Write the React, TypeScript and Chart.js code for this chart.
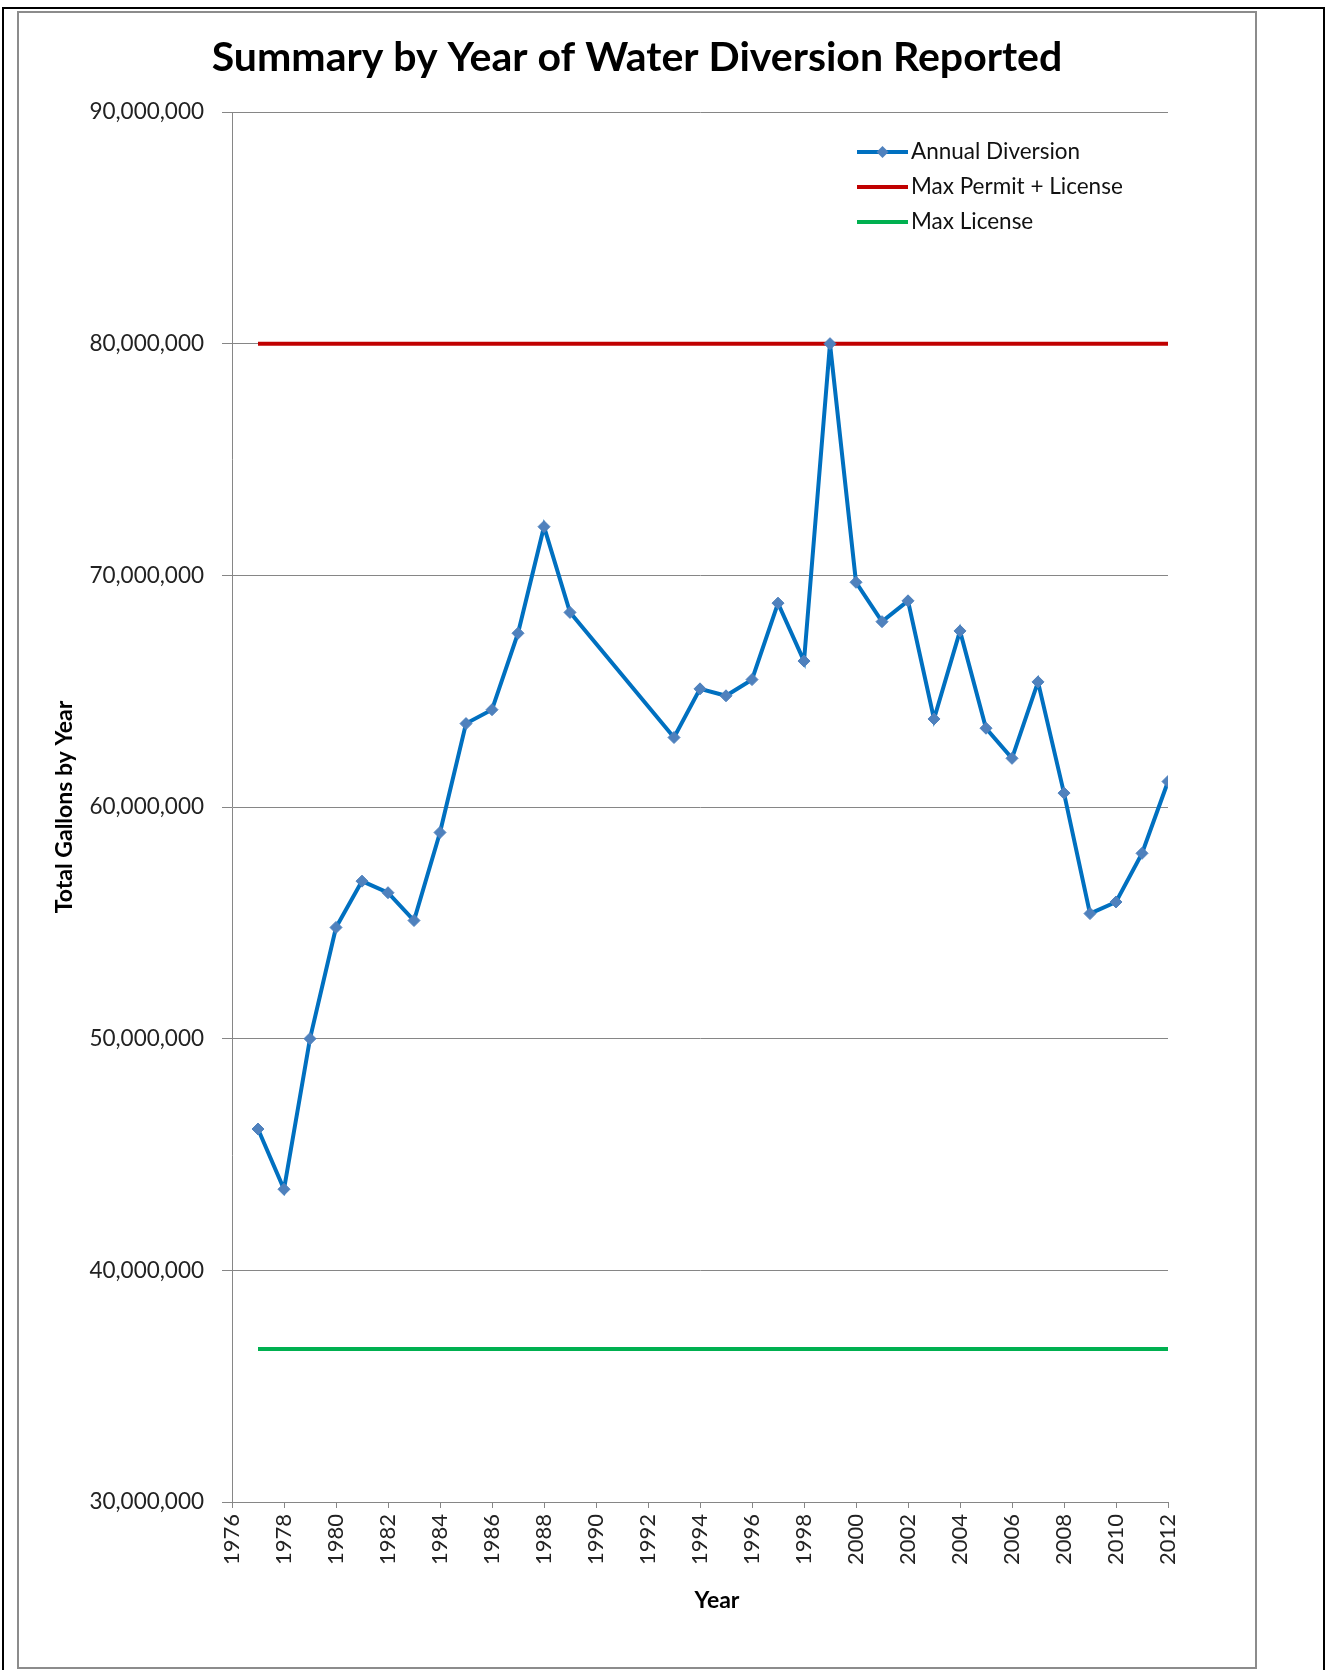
import React, { useEffect, useRef } from 'react';
import { Chart, registerables } from 'chart.js';

Chart.register(...registerables);

// ---- Data ----
const years = [
  1977, 1978, 1979, 1980, 1981, 1982, 1983, 1984, 1985, 1986, 1987, 1988, 1989,
  1993, 1994, 1995, 1996, 1997, 1998, 1999, 2000, 2001, 2002, 2003, 2004, 2005,
  2006, 2007, 2008, 2009, 2010, 2011, 2012,
];
const annualDiversion = [
  46100000, 43500000, 50000000, 54800000, 56800000, 56300000, 55100000, 58900000,
  63600000, 64200000, 67500000, 72100000, 68400000,
  63000000, 65100000, 64800000, 65500000, 68800000, 66300000, 80000000, 69700000,
  68000000, 68900000, 63800000, 67600000, 63400000, 62100000, 65400000, 60600000,
  55400000, 55900000, 58000000, 61100000,
];
const limitYears = [1977, 2012];
const maxPermitLicense = [80000000, 80000000];
const maxLicense = [36600000, 36600000];

const seriesLabels = ['Annual Diversion', 'Max Permit + License', 'Max License'];
const chartTitle = 'Summary by Year of Water Diversion Reported';
const xAxisTitle = 'Year';
const yAxisTitle = 'Total Gallons by Year';

const xMin = 1976;
const xMax = 2012;
const xStep = 2;
const yMin = 30000000;
const yMax = 90000000;
const yStep = 10000000;

const FONT = 'Lato, "Open Sans", "Liberation Sans", sans-serif';

const insideLegend = {
  id: 'insideLegend',
  afterDraw(chart: any) {
    const { ctx, chartArea } = chart;
    const x0 = chartArea.right - 311;
    let y = chartArea.top + 40;
    ctx.save();
    chart.data.datasets.forEach((ds: any) => {
      ctx.strokeStyle = ds.borderColor;
      ctx.lineWidth = ds.borderWidth;
      ctx.lineCap = 'butt';
      ctx.beginPath();
      ctx.moveTo(x0, y);
      ctx.lineTo(x0 + 51, y);
      ctx.stroke();
      if (ds.pointRadius > 0) {
        const cx = x0 + 25.5;
        const r = ds.pointRadius;
        ctx.fillStyle = ds.pointBackgroundColor;
        ctx.beginPath();
        ctx.moveTo(cx, y - r);
        ctx.lineTo(cx + r, y);
        ctx.lineTo(cx, y + r);
        ctx.lineTo(cx - r, y);
        ctx.closePath();
        ctx.fill();
      }
      ctx.fillStyle = '#111';
      ctx.font = `22.5px ${FONT}`;
      ctx.textAlign = 'left';
      ctx.textBaseline = 'middle';
      ctx.fillText(ds.label, x0 + 54, y);
      y += 35;
    });
    ctx.restore();
  },
};

// x-axis title, placed slightly right of the plot centre as in the original
const xTitlePlugin = {
  id: 'xTitlePlugin',
  afterDraw(chart: any) {
    const { ctx, chartArea } = chart;
    ctx.save();
    ctx.fillStyle = '#000';
    ctx.font = `bold 23px ${FONT}`;
    ctx.textAlign = 'center';
    ctx.textBaseline = 'middle';
    ctx.fillText(xAxisTitle, (chartArea.left + chartArea.right) / 2 + 17, chartArea.bottom + 99);
    ctx.restore();
  },
};

export default function App() {
  const canvasRef = useRef<HTMLCanvasElement | null>(null);

  useEffect(() => {
    if (!canvasRef.current) return;
    const chart = new Chart(canvasRef.current, {
      type: 'line',
      data: {
        datasets: [
          {
            label: seriesLabels[0],
            data: years.map((yr, i) => ({ x: yr, y: annualDiversion[i] })),
            borderColor: '#0070C0',
            borderWidth: 4,
            pointStyle: 'rectRot',
            pointRadius: 6,
            pointBackgroundColor: '#4F81BD',
            pointBorderColor: '#4F81BD',
            pointBorderWidth: 1,
            tension: 0,
            yAxisID: 'y',
          },
          {
            label: seriesLabels[1],
            data: limitYears.map((yr, i) => ({ x: yr, y: maxPermitLicense[i] })),
            borderColor: '#C00000',
            borderWidth: 4,
            pointRadius: 0,
            tension: 0,
            yAxisID: 'y',
          },
          {
            label: seriesLabels[2],
            data: limitYears.map((yr, i) => ({ x: yr, y: maxLicense[i] })),
            borderColor: '#00B050',
            borderWidth: 4,
            pointRadius: 0,
            tension: 0,
            yAxisID: 'y',
          },
        ],
      },
      options: {
        animation: false,
        responsive: false,
        devicePixelRatio: 1,
        layout: { padding: { left: 0, right: 0, top: 0, bottom: 0 } },
        plugins: {
          legend: { display: false },
          tooltip: { enabled: false },
          title: {
            display: true,
            text: chartTitle,
            color: '#000',
            font: { family: FONT, size: 41, weight: 'bold' },
            padding: { top: 20.4, bottom: 29.4 },
          },
        },
        scales: {
          x: {
            type: 'linear',
            min: xMin,
            max: xMax,
            afterFit: (s: any) => {
              s.height = 165;
            },
            ticks: {
              stepSize: xStep,
              autoSkip: false,
              minRotation: 90,
              maxRotation: 90,
              padding: 6,
              color: '#222',
              font: { family: FONT, size: 22 },
              callback: (v: any) => String(v),
            },
            grid: {
              drawOnChartArea: false,
              drawTicks: true,
              tickLength: 6,
              color: '#868686',
            },
            border: { display: true, color: '#868686' },
            title: { display: false },
          },
          y: {
            type: 'linear',
            position: 'left',
            min: yMin,
            max: yMax,
            afterFit: (s: any) => {
              s.width = 213;
            },
            ticks: {
              stepSize: yStep,
              padding: 18,
              color: '#222',
              font: { family: FONT, size: 22.5 },
              callback: (v: any) => Number(v).toLocaleString('en-US'),
            },
            grid: {
              color: '#868686',
              lineWidth: 1,
              drawTicks: true,
              tickLength: 10,
            },
            border: { display: true, color: '#868686' },
            title: {
              display: true,
              text: yAxisTitle,
              color: '#000',
              font: { family: FONT, size: 23, weight: 'bold' },
              padding: { top: 32, bottom: 0 },
            },
          },
          spacer: {
            type: 'linear',
            position: 'right',
            display: true,
            afterFit: (s: any) => {
              s.width = 87;
            },
            ticks: { display: false },
            grid: { display: false, drawOnChartArea: false },
            border: { display: false },
          },
        },
      },
      plugins: [insideLegend, xTitlePlugin],
    } as any);
    return () => chart.destroy();
  }, []);

  return (
    <>
      <div
        style={{
          position: 'absolute',
          left: 2,
          top: 7,
          width: 1323,
          height: 1663,
          borderTop: '2px solid #000',
          borderLeft: '2px solid #000',
          borderRight: '2px solid #000',
          boxSizing: 'border-box',
          background: '#fff',
        }}
      />
      <div
        style={{
          position: 'absolute',
          left: 17,
          top: 11,
          width: 1240,
          height: 1658,
          border: '2px solid #8c8c8c',
          boxSizing: 'border-box',
          background: '#fff',
        }}
      >
        <canvas
          ref={canvasRef}
          width={1236}
          height={1654}
          style={{ display: 'block', width: 1236, height: 1654 }}
        />
      </div>
    </>
  );
}
